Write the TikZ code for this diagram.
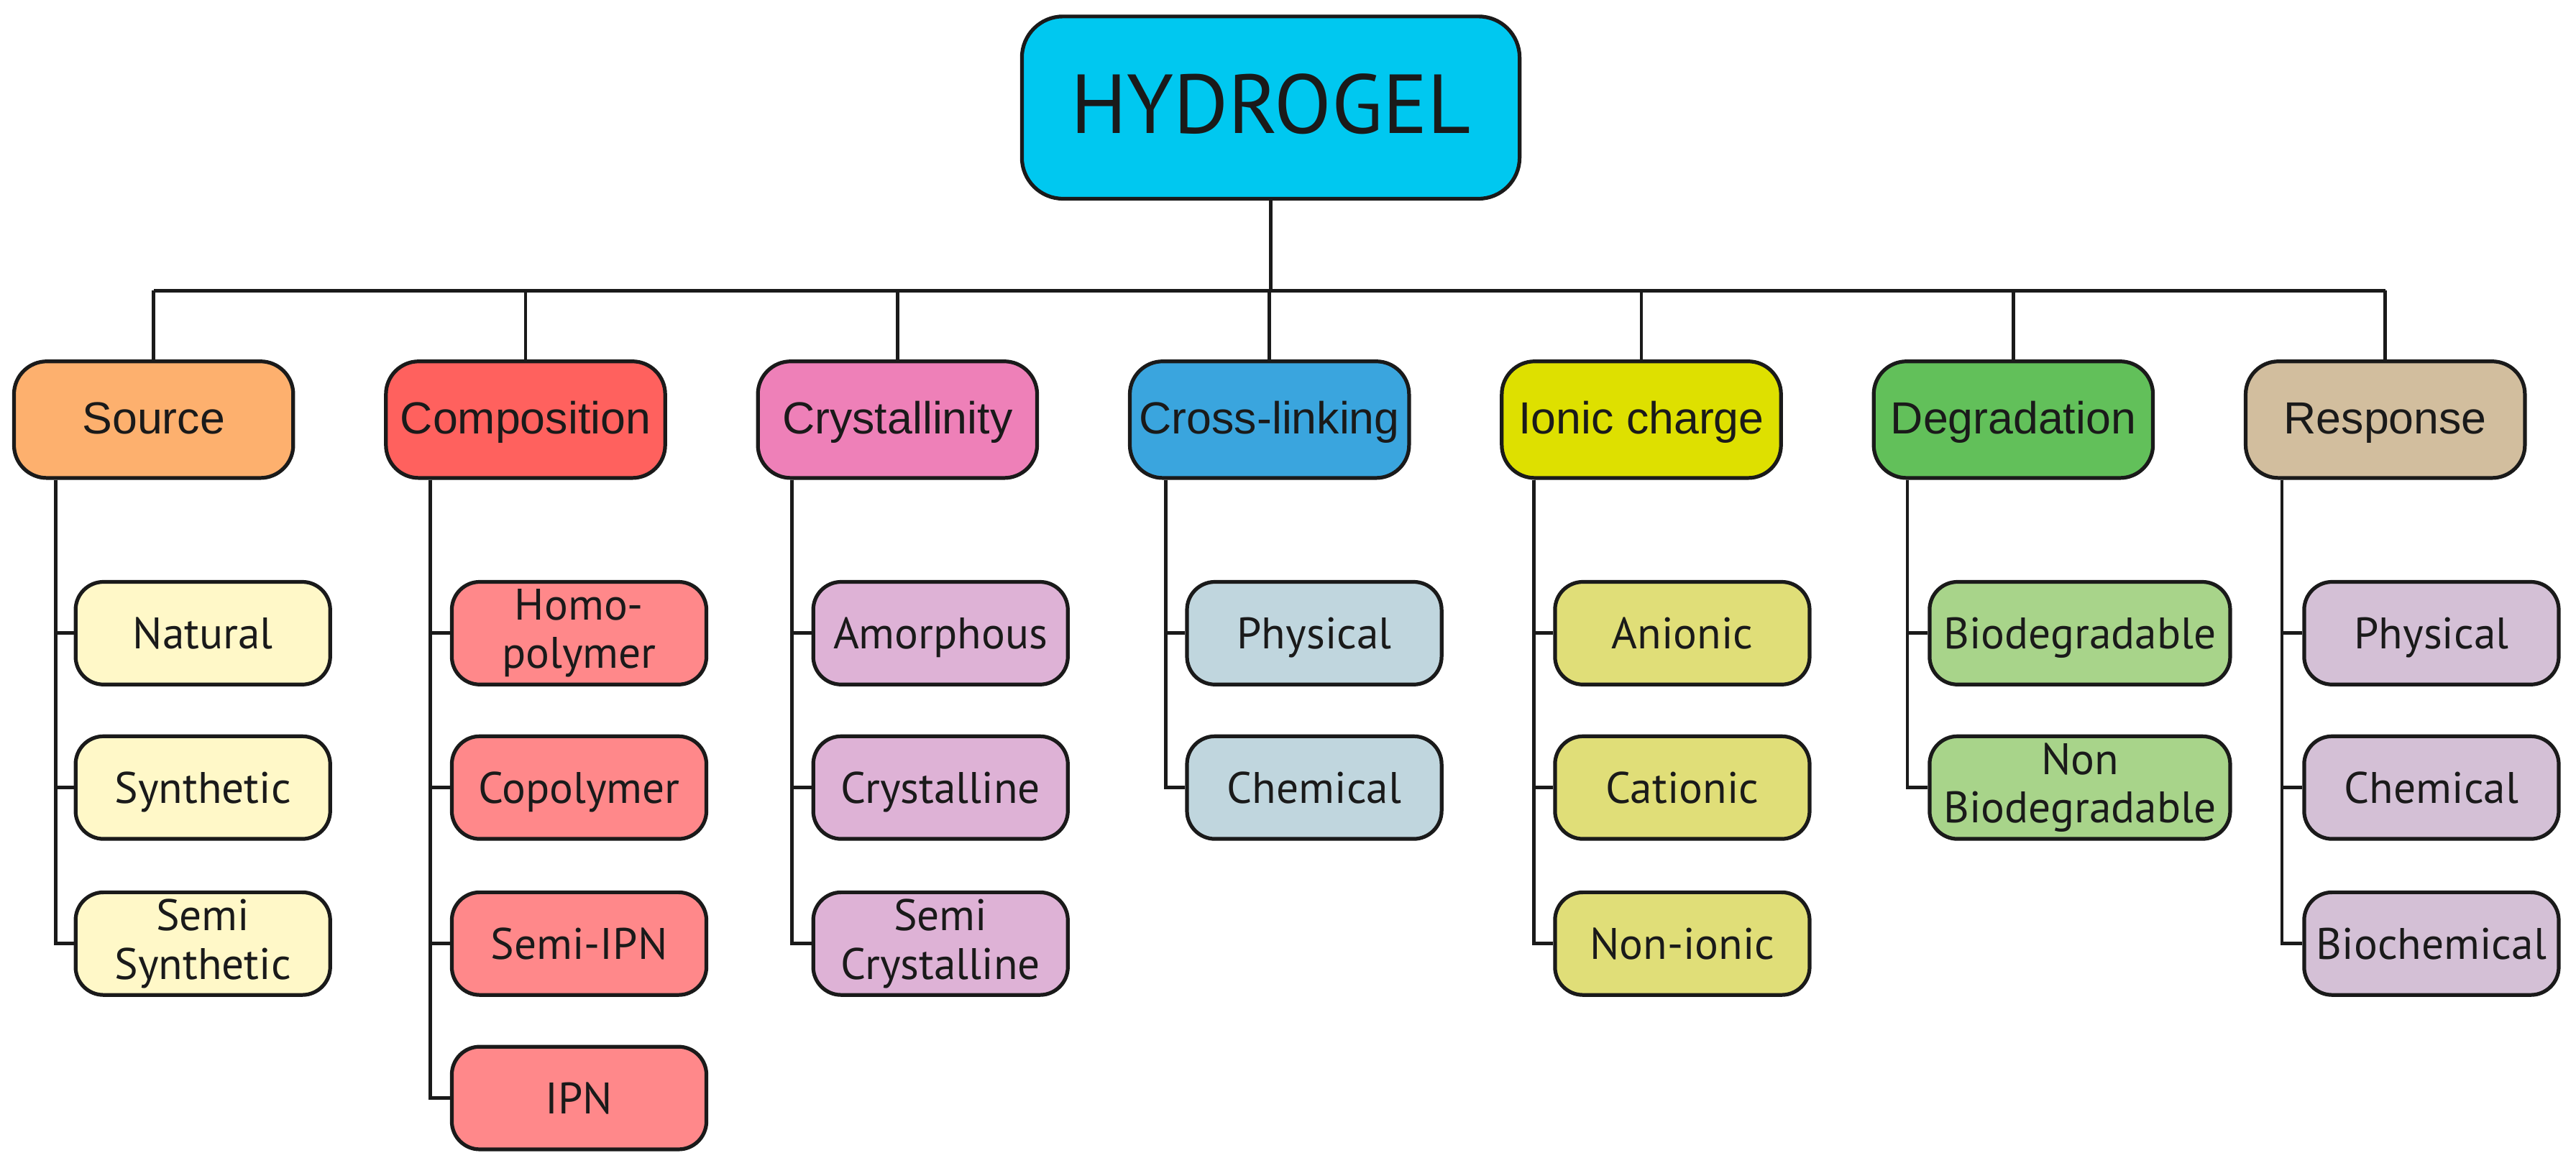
\documentclass[tikz,border=0pt]{standalone}
\usepackage{fontspec}
\setmainfont{PT Sans}
\newfontfamily\arialfont{Liberation Sans}
\definecolor{hydroC}{HTML}{00C8F0}
\definecolor{srcC}{HTML}{FDB06E}
\definecolor{compC}{HTML}{FF615E}
\definecolor{crysC}{HTML}{EE80B8}
\definecolor{crossC}{HTML}{3AA5DE}
\definecolor{ionC}{HTML}{DEE000}
\definecolor{degC}{HTML}{62C05A}
\definecolor{respC}{HTML}{D2BE9E}
\definecolor{srcK}{HTML}{FFF8C8}
\definecolor{compK}{HTML}{FF888A}
\definecolor{crysK}{HTML}{DEB2D6}
\definecolor{crossK}{HTML}{C0D6DE}
\definecolor{ionK}{HTML}{E0DE78}
\definecolor{degK}{HTML}{A8D48A}
\definecolor{respK}{HTML}{D4C0D6}
\definecolor{inkC}{HTML}{1A1A1A}
\tikzset{
  basebox/.style={draw=inkC, line width=1.3pt, align=center, inner sep=0pt, text=inkC},
  oneline/.style={text height=14.7pt, text depth=4pt},
  hbox/.style={basebox, text height=24pt, text depth=6pt, rounded corners=0.5cm, fill=hydroC, minimum width=6.06cm, minimum height=2.22cm, font=\fontsize{29}{31}\selectfont},
  lbox/.style={basebox, text height=14pt, text depth=4pt, rounded corners=0.4cm, minimum width=3.4cm, minimum height=1.42cm, font=\arialfont\fontsize{15.6}{17}\selectfont},
  cbox/.style={basebox, rounded corners=0.34cm, minimum width=3.1cm, minimum height=1.25cm, font=\fontsize{15.3}{16.8}\selectfont},
  conn/.style={draw=inkC, line width=1.2pt}
}
\begin{document}
\begin{tikzpicture}[x=0.02cm,y=-0.02cm]
\useasboundingbox (0,0) rectangle (1568,705);
\fill[white] (0,0) rectangle (1568,705);
\node[hbox] (hyd) at (773.5,65.5) {HYDROGEL};
\coordinate (bar) at (0,177);
% level 1
\node[lbox, fill=srcC] (src) at (93.5,255.5) {Source};
\node[lbox, fill=compC] (comp) at (319.9,255.5) {Composition};
\node[lbox, fill=crysC] (crys) at (546.3,255.5) {Crystallinity};
\node[lbox, fill=crossC] (cross) at (772.7,255.5) {Cross-linking};
\node[lbox, fill=ionC] (ion) at (999.1,255.5) {Ionic charge};
\node[lbox, fill=degC] (deg) at (1225.5,255.5) {Degradation};
\node[lbox, fill=respC] (resp) at (1451.9,255.5) {Response};
% vertical stems
\coordinate (vsrc) at (34,0);
\coordinate (vcomp) at (262,0);
\coordinate (vcrys) at (482,0);
\coordinate (vcross) at (709.5,0);
\coordinate (vion) at (933.5,0);
\coordinate (vdeg) at (1161,0);
\coordinate (vresp) at (1389,0);
% children
\node[cbox, oneline, fill=srcK] (nat) at (123.5,385.5) {Natural};
\node[cbox, oneline, fill=srcK] (syn) at (123.5,479.5) {Synthetic};
\node[cbox, fill=srcK] (ssyn) at (123.5,574.5) {Semi\\Synthetic};
\node[cbox, fill=compK] (homo) at (352.5,385.5) {Homo-\\polymer};
\node[cbox, oneline, fill=compK] (copo) at (352.5,479.5) {Copolymer};
\node[cbox, oneline, fill=compK] (sipn) at (352.5,574.5) {Semi-IPN};
\node[cbox, oneline, fill=compK] (ipn) at (352.5,668.5) {IPN};
\node[cbox, oneline, fill=crysK] (amor) at (572.5,385.5) {Amorphous};
\node[cbox, oneline, fill=crysK] (cryl) at (572.5,479.5) {Crystalline};
\node[cbox, fill=crysK] (scry) at (572.5,574.5) {Semi\\Crystalline};
\node[cbox, oneline, fill=crossK] (phys) at (800,385.5) {Physical};
\node[cbox, oneline, fill=crossK] (chem) at (800,479.5) {Chemical};
\node[cbox, oneline, fill=ionK] (anio) at (1024,385.5) {Anionic};
\node[cbox, oneline, fill=ionK] (cati) at (1024,479.5) {Cationic};
\node[cbox, oneline, fill=ionK] (noni) at (1024,574.5) {Non-ionic};
\node[cbox, oneline, fill=degK, minimum width=3.66cm] (biod) at (1266,385.5) {Biodegradable};
\node[cbox, fill=degK, minimum width=3.66cm] (nbio) at (1266,479.5) {Non\\Biodegradable};
\node[cbox, oneline, fill=respK] (rphy) at (1480,385.5) {Physical};
\node[cbox, oneline, fill=respK] (rche) at (1480,479.5) {Chemical};
\node[cbox, oneline, fill=respK] (rbio) at (1480,574.5) {Biochemical};
% top connectors
\draw[conn] (hyd.south) -- (hyd.south |- bar);
\draw[conn] (src.north |- bar) -- (resp.north |- bar);
\foreach \n in {src,comp,crys,cross,ion,deg,resp}{
  \draw[conn] (\n.north) -- (\n.north |- bar);
}
% child connectors
\foreach \p/\kids in {src/{nat,syn,ssyn}, comp/{homo,copo,sipn,ipn}, crys/{amor,cryl,scry}, cross/{phys,chem}, ion/{anio,cati,noni}, deg/{biod,nbio}, resp/{rphy,rche,rbio}}{
  \foreach \k in \kids {
    \draw[conn] (v\p |- \p.south) |- (\k.west);
  }
}
\end{tikzpicture}
\end{document}
